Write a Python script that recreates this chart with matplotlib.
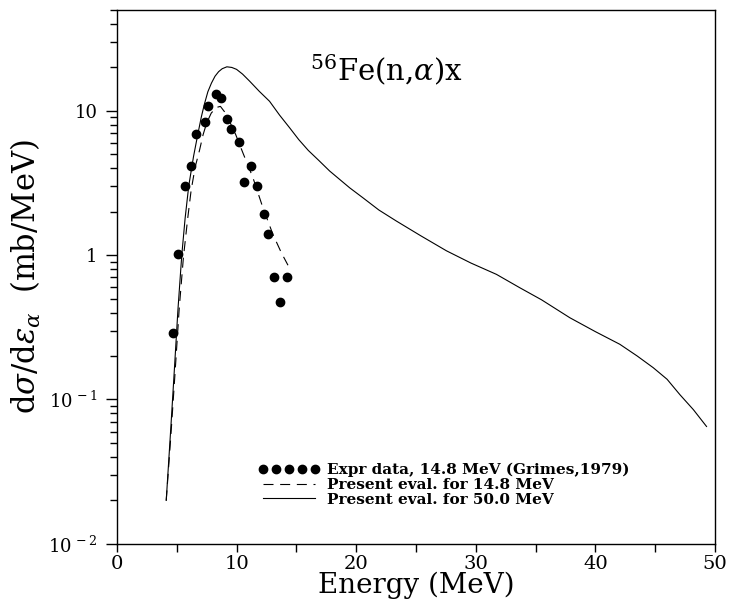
import matplotlib
matplotlib.use("Agg")
import matplotlib.pyplot as plt
from matplotlib.ticker import LogLocator, NullFormatter, MultipleLocator, FixedLocator

plt.rcParams["font.family"] = ["DejaVu Serif"]
plt.rcParams["mathtext.fontset"] = "dejavuserif"

# Experimental alpha emission spectrum at 14.8 MeV (Grimes, 1979)
expr_energy = [4.67, 5.09, 5.71, 6.21, 6.63, 7.32, 7.60, 8.24, 8.72, 9.22,
               9.50, 10.19, 10.61, 11.20, 11.70, 12.32, 12.59, 13.10, 13.60, 14.21]
expr_xs = [0.29, 1.02, 2.99, 4.11, 6.85, 8.3, 10.7, 13.0, 12.2, 8.8,
           7.5, 6.06, 3.22, 4.11, 2.99, 1.93, 1.39, 0.70, 0.475, 0.70]

# Evaluated spectrum for 14.8 MeV incident neutrons
eval14_energy = [4.12, 4.5, 4.85, 5.2, 5.55, 5.9, 6.2, 6.55, 6.9, 7.2, 7.5, 7.88,
                 8.3, 8.65, 9.0, 9.45, 9.92, 10.53, 11.37, 12.2, 13.04, 13.74, 14.3]
eval14_xs = [0.02, 0.055, 0.15, 0.42, 0.95, 1.75, 2.8, 4.1, 5.3, 6.8, 8.2, 9.6,
             10.5, 10.7, 9.8, 8.3, 6.85, 5.1, 3.43, 2.13, 1.39, 1.04, 0.85]

# Evaluated spectrum for 50.0 MeV incident neutrons
eval50_energy = [4.12, 4.5, 4.81, 5.1, 5.42, 5.7, 6.0, 6.4, 6.76, 7.05, 7.3, 7.6,
                 7.9, 8.2, 8.5, 8.8, 9.19, 9.6, 10.0, 10.5, 11.09, 11.9, 12.76,
                 13.6, 14.44, 15.2, 16.0, 16.9, 17.78, 18.6, 19.46, 20.57, 21.9,
                 23.36, 25.4, 27.55, 29.6, 31.73, 33.68, 35.5, 37.87, 40.0, 42.05,
                 43.5, 44.84, 46.0, 47.07, 48.2, 49.3]
eval50_xs = [0.02, 0.063, 0.166, 0.42, 1.0, 1.8, 3.0, 4.8, 6.85, 9.0, 11.0, 13.5,
             15.5, 17.3, 18.6, 19.5, 20.1, 19.9, 19.3, 17.9, 16.0, 13.6, 11.6,
             9.3, 7.6, 6.3, 5.3, 4.5, 3.82, 3.35, 2.92, 2.49, 2.05,
             1.72, 1.36, 1.07, 0.88, 0.735, 0.594, 0.49, 0.368, 0.295, 0.241,
             0.2, 0.166, 0.138, 0.108, 0.085, 0.065]

ytick_values = [0.01, 0.1, 1, 10]
ytick_labels = [r"10$^{\,-2}$", r"10$^{\,-1}$", "1", "10"]
xtick_values = [0, 10, 20, 30, 40, 50]

fig = plt.figure(figsize=(7.31, 6.03), dpi=100)
ax = fig.add_axes([0.160, 0.098, 0.818, 0.886])

ax.plot(expr_energy, expr_xs, linestyle="none", marker="o", markersize=6,
        color="black", label="Expr data, 14.8 MeV (Grimes,1979)")
ax.plot(eval14_energy, eval14_xs, linestyle=(0, (9, 6)), color="black",
        linewidth=0.8, label="Present eval. for 14.8 MeV")
ax.plot(eval50_energy, eval50_xs, linestyle="-", color="black",
        linewidth=0.8, label="Present eval. for 50.0 MeV")

ax.set_yscale("log")
ax.set_xlim(0, 50)
ax.set_ylim(0.01, 50)

ax.set_xticks(xtick_values)
ax.set_xticklabels([str(v) for v in xtick_values])
ax.xaxis.set_minor_locator(MultipleLocator(5))
ax.yaxis.set_major_locator(FixedLocator(ytick_values))
ax.set_yticklabels(ytick_labels)
ax.yaxis.set_minor_locator(LogLocator(base=10, subs=range(2, 10)))
ax.yaxis.set_minor_formatter(NullFormatter())

ax.tick_params(axis="x", which="major", direction="out", length=6, width=1,
               labelsize=14, pad=2, top=False)
ax.tick_params(axis="x", which="minor", direction="out", length=6, width=1, top=False)
ax.tick_params(axis="y", which="major", direction="out", length=8, width=1,
               labelsize=13, pad=6, right=False)
ax.tick_params(axis="y", which="minor", direction="out", length=5, width=1, right=False)

for sp in ax.spines.values():
    sp.set_linewidth(1.0)
    sp.set_color("black")

ax.set_xlabel("Energy (MeV)", fontsize=20, labelpad=-1)
ax.set_ylabel(r"d$\sigma$/d$\varepsilon_\alpha$  (mb/MeV)", fontsize=22, labelpad=4)

ax.text(0.45, 0.888, r"$^{56}$Fe(n,$\alpha$)x", transform=ax.transAxes,
        fontsize=21, ha="center", va="center")

leg = ax.legend(loc="upper left", bbox_to_anchor=(0.236, 0.152), frameon=False,
                numpoints=5, handlelength=4.0, handletextpad=0.5,
                labelspacing=0.05, borderpad=0, borderaxespad=0,
                prop={"family": "DejaVu Serif", "weight": "bold", "size": 11})
for h in leg.legend_handles:
    if h.get_marker() == "o":
        h.set_markersize(6)

fig.savefig("out.png", dpi=100)
